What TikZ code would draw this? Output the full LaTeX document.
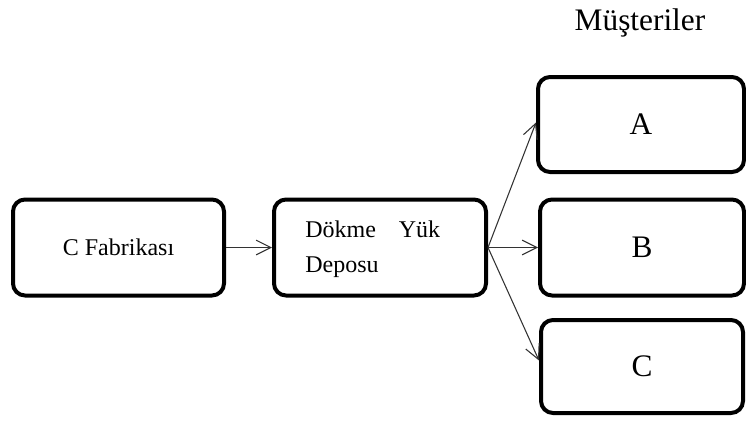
\documentclass[tikz,border=0pt]{standalone}
\usepackage{fontspec}
\setmainfont{Liberation Serif}
\usetikzlibrary{arrows.meta}
\begin{document}
\begin{tikzpicture}[x=0.75pt,y=-0.75pt,
  box/.style={draw=black,line width=3pt,rounded corners=9pt,inner sep=0pt,
    minimum width=#1*0.75pt},
  box/.default=210,
  flow/.style={draw=black!80,line width=0.8pt,
    -{Straight Barb[length=11pt,width=11pt,line width=0.8pt]}},
  small/.style={font=\fontsize{18}{26}\selectfont,inner sep=0pt},
  big/.style={font=\fontsize{23.5}{28}\selectfont,inner sep=0pt}]
  \useasboundingbox (0,0) rectangle (746,421);

  % source and warehouse
  \node[box=211,minimum height=96*0.75pt,small] (fab) at (118.5,247.5) {C Fabrikası};
  \node[box=212,minimum height=96*0.75pt] (dep) at (380,247.5) {};
  \node[small,anchor=base west,align=left] (deptext) at (305,272)
    {\makebox[101.25pt][s]{Dökme\hfill Yük}\\Deposu};

  % customers
  \node[big,anchor=base] (title) at (640,30) {Müşteriler};
  \node[box=206,minimum height=95*0.75pt,big] (a) at (641,124.5) {A};
  \node[box=204,minimum height=96*0.75pt,big] (b) at (642,247.5) {B};
  \node[box=202,minimum height=93*0.75pt,big] (c) at (642,366.5) {C};

  % flows
  \coordinate (hub) at (dep.east);
  \draw[flow] (fab.east) -- (dep.west);
  \draw[flow] (hub) -- ([yshift=2*0.75pt]a.west);
  \draw[flow] (hub) -- (b.west);
  \draw[flow] (hub) -- ([yshift=6*0.75pt]c.west);
\end{tikzpicture}
\end{document}
